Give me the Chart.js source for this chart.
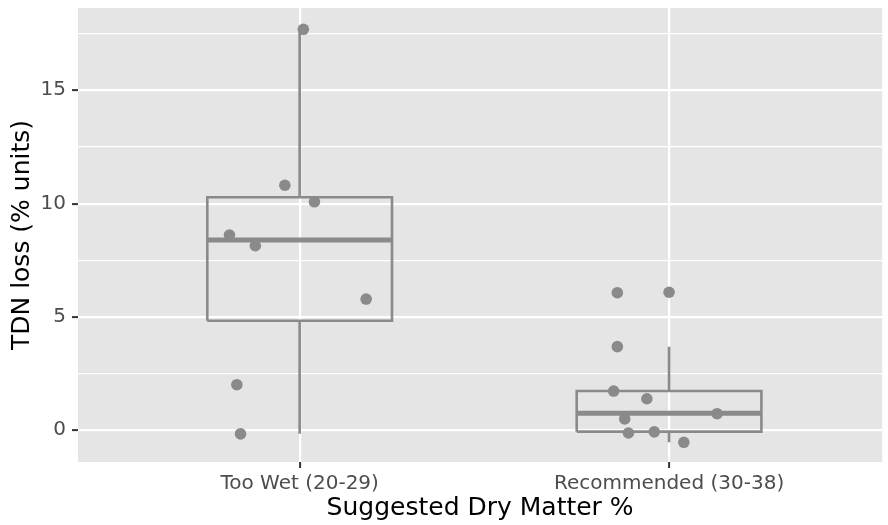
<!DOCTYPE html>
<html>
<head>
<meta charset="utf-8">
<title>TDN loss by dry matter</title>
<script src="https://cdn.jsdelivr.net/npm/chart.js@4"></script>
<style>
  html, body { margin: 0; padding: 0; background: #ffffff; overflow: hidden; }
  #wrap { width: 888px; height: 525px; }
</style>
</head>
<body>
<div id="wrap"><canvas id="tdnChart" width="888" height="525"></canvas></div>
<script>
const categories = ["Too Wet (20-29)", "Recommended (30-38)"];

// individual samples (TDN loss) and the sideways jitter of each dot
const wetValues = [17.69, 10.81, 10.08, 8.61, 8.14, 5.79, 2.01, -0.16];
const wetJitter = [0.01, -0.04, 0.04, -0.19, -0.12, 0.18, -0.17, -0.16];
const recValues = [6.07, 6.09, 3.69, 1.73, 1.39, 0.73, 0.50, -0.12, -0.07, -0.53];
const recJitter = [-0.14, 0.00, -0.14, -0.15, -0.06, 0.13, -0.12, -0.11, -0.04, 0.04];

// box summaries, one entry per category
const boxLow = [-0.15, -0.53];
const boxQ1 = [4.83, -0.06];
const boxMedian = [8.39, 0.75];
const boxQ3 = [10.28, 1.73];
const boxHigh = [17.69, 3.69];

const yTicks = [0, 2.5, 5, 7.5, 10, 12.5, 15, 17.5];

const GREY = "#8a8a8a";
const BOX_HALF = 0.25;
const FONT = "'DejaVu Sans', Verdana, sans-serif";

const isMajor = (v) => v % 5 === 0;

const points = [];
wetValues.forEach((v, i) => points.push({ x: 1 + wetJitter[i], y: v }));
recValues.forEach((v, i) => points.push({ x: 2 + recJitter[i], y: v }));

const lineSet = (data, width) => ({
  data: data,
  showLine: true,
  borderColor: GREY,
  borderWidth: width,
  borderCapStyle: "butt",
  borderJoinStyle: "miter",
  pointRadius: 0,
  fill: false,
});

// dots go first so they sit on top of the boxes
const datasets = [{
  data: points,
  pointRadius: 5.8,
  pointBackgroundColor: GREY,
  pointBorderWidth: 0,
  showLine: false,
}];

categories.forEach((name, i) => {
  const x = i + 1;
  datasets.push(lineSet([
    { x: x - BOX_HALF, y: boxQ1[i] },
    { x: x + BOX_HALF, y: boxQ1[i] },
    { x: x + BOX_HALF, y: boxQ3[i] },
    { x: x - BOX_HALF, y: boxQ3[i] },
    { x: x - BOX_HALF, y: boxQ1[i] },
  ], 2.6));
  datasets.push(lineSet([{ x: x - BOX_HALF, y: boxMedian[i] }, { x: x + BOX_HALF, y: boxMedian[i] }], 5));
  datasets.push(lineSet([{ x: x, y: boxQ3[i] }, { x: x, y: boxHigh[i] }], 2.6));
  datasets.push(lineSet([{ x: x, y: boxLow[i] }, { x: x, y: boxQ1[i] }], 2.6));
});

const panelBackground = {
  id: "panelBackground",
  beforeDraw(chart) {
    const { ctx, chartArea: a } = chart;
    ctx.save();
    ctx.fillStyle = "#e5e5e5";
    ctx.fillRect(a.left, a.top, a.right - a.left, a.bottom - a.top);
    ctx.restore();
  },
};

new Chart(document.getElementById("tdnChart"), {
  type: "scatter",
  data: { datasets: datasets },
  plugins: [panelBackground],
  options: {
    responsive: false,
    animation: false,
    layout: { padding: { top: 8, right: 0, bottom: 0, left: 0 } },
    plugins: {
      legend: { display: false },
      tooltip: { enabled: false },
    },
    scales: {
      x: {
        type: "linear",
        // the panel runs a little past the right edge of the page
        min: 0.4,
        max: 2.577,
        afterBuildTicks: (axis) => {
          axis.ticks = categories.map((c, i) => ({ value: i + 1 }));
        },
        afterFit: (axis) => {
          axis.height = 63;
          axis.paddingLeft = 0;
          axis.paddingRight = 0;
        },
        border: { display: false },
        grid: {
          color: "#ffffff",
          lineWidth: 2.2,
          tickLength: 6,
          tickWidth: 2,
          tickColor: "#333333",
        },
        ticks: {
          autoSkip: false,
          maxRotation: 0,
          minRotation: 0,
          padding: 4,
          color: "#4d4d4d",
          font: { family: FONT, size: 20 },
          callback: (v) => categories[v - 1],
        },
        title: {
          display: true,
          text: "Suggested Dry Matter %",
          color: "#000000",
          font: { family: FONT, size: 25 },
          padding: { top: 0, bottom: 2 },
        },
      },
      y: {
        min: -1.4,
        max: 18.63,
        afterBuildTicks: (axis) => {
          axis.ticks = yTicks.map((v) => ({ value: v }));
        },
        afterFit: (axis) => {
          axis.width = 78;
          axis.paddingTop = 0;
          axis.paddingBottom = 0;
        },
        border: { display: false },
        grid: {
          color: "#ffffff",
          lineWidth: (ctx) => (ctx.tick && isMajor(ctx.tick.value) ? 2.2 : 1.2),
          tickLength: 6,
          tickWidth: 2,
          tickColor: (ctx) => (ctx.tick && isMajor(ctx.tick.value) ? "#333333" : "rgba(0,0,0,0)"),
        },
        ticks: {
          padding: 6,
          color: "#4d4d4d",
          font: { family: FONT, size: 20 },
          callback: (v) => (isMajor(v) ? String(v) : ""),
        },
        title: {
          display: true,
          text: "TDN loss (% units)",
          color: "#000000",
          font: { family: FONT, size: 25 },
          padding: { top: 7, bottom: 0 },
        },
      },
    },
  },
});
</script>
</body>
</html>
